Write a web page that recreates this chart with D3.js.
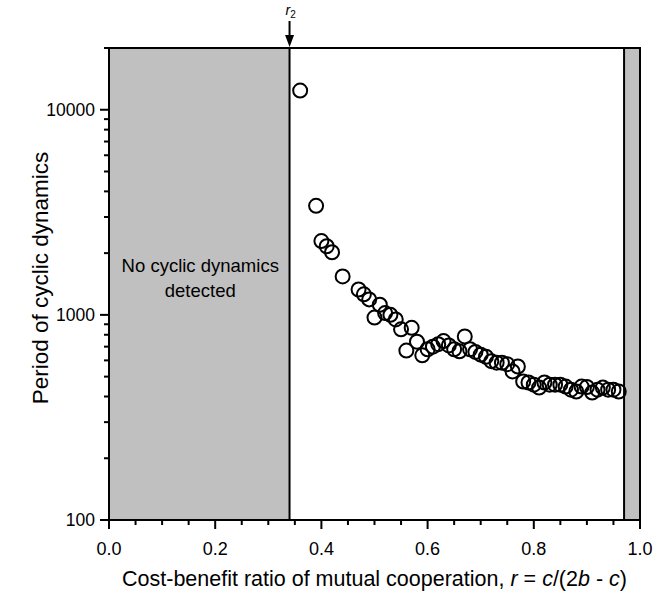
<!DOCTYPE html>
<html>
<head>
<meta charset="utf-8">
<script src="https://cdn.jsdelivr.net/npm/d3@7"></script>
<style>
  body { margin: 0; background: #fff; }
  text { font-family: "Liberation Sans", Arial, sans-serif; fill: #000; }
</style>
</head>
<body>
<div id="canvas"></div>
<script>
// cost-benefit ratio r and period of the cycles
const ratios = [0.36, 0.39, 0.40, 0.41, 0.42, 0.44, 0.47, 0.48, 0.49, 0.50,
  0.51, 0.52, 0.53, 0.54, 0.55, 0.56, 0.57, 0.58, 0.59, 0.60,
  0.61, 0.62, 0.63, 0.64, 0.65, 0.66, 0.67, 0.68, 0.69, 0.70,
  0.71, 0.72, 0.73, 0.74, 0.75, 0.76, 0.77, 0.78, 0.79, 0.80,
  0.81, 0.82, 0.83, 0.84, 0.85, 0.86, 0.87, 0.88, 0.89, 0.90,
  0.91, 0.92, 0.93, 0.94, 0.95, 0.96];
const periods = [12400, 3400, 2290, 2160, 2020, 1540, 1330, 1260, 1190, 970,
  1120, 1020, 1000, 950, 850, 670, 865, 740, 635, 680,
  700, 720, 745, 710, 680, 665, 785, 680, 660, 640,
  625, 595, 585, 585, 575, 530, 560, 473, 468, 457,
  442, 468, 457, 457, 457, 447, 432, 423, 447, 445,
  418, 432, 442, 432, 432, 423];

const r2 = 0.34;          // lower edge of cycling region
const rUpper = 0.97;      // upper edge of cycling region
const yTicks = [100, 1000, 10000];
const xTicks = [0, 0.2, 0.4, 0.6, 0.8, 1.0];

const width = 672, height = 599;
const margin = { left: 109, right: 32, top: 48, bottom: 79 };
const plotW = width - margin.left - margin.right;
const plotH = height - margin.top - margin.bottom;

const svg = d3.select("#canvas").append("svg")
  .attr("width", width).attr("height", height);

const x = d3.scaleLinear().domain([0, 1]).range([margin.left, margin.left + plotW]);
const y = d3.scaleLog().domain([100, 20000]).range([margin.top + plotH, margin.top]);

// grey bands where no cycles were found
svg.append("rect").attr("x", x(0)).attr("y", y(20000))
  .attr("width", x(r2) - x(0)).attr("height", plotH)
  .attr("fill", "#c0c0c0");
svg.append("rect").attr("x", x(rUpper)).attr("y", y(20000))
  .attr("width", x(1) - x(rUpper)).attr("height", plotH)
  .attr("fill", "#c0c0c0");
svg.append("line").attr("x1", x(r2)).attr("x2", x(r2))
  .attr("y1", y(20000)).attr("y2", y(100))
  .attr("stroke", "#000").attr("stroke-width", 2);
svg.append("line").attr("x1", x(rUpper)).attr("x2", x(rUpper))
  .attr("y1", y(20000)).attr("y2", y(100))
  .attr("stroke", "#000").attr("stroke-width", 2);

// frame
svg.append("rect").attr("x", x(0)).attr("y", y(20000))
  .attr("width", plotW).attr("height", plotH)
  .attr("fill", "none").attr("stroke", "#000").attr("stroke-width", 2);

// label in left band
const cx = (x(0) + x(r2)) / 2;
const note = svg.append("text").attr("text-anchor", "middle")
  .style("font-size", "18.5px");
note.append("tspan").attr("x", cx + 1).attr("y", 272).text("No cyclic dynamics");
note.append("tspan").attr("x", cx + 1).attr("y", 297).text("detected");

// data points
const pts = ratios.map((r, i) => ({ r, p: periods[i] }));
svg.append("g").selectAll("circle").data(pts).join("circle")
  .attr("cx", d => x(d.r)).attr("cy", d => y(d.p))
  .attr("r", 7).attr("fill", "none")
  .attr("stroke", "#000").attr("stroke-width", 2);

// x axis
const xMinor = d3.range(0, 1.0001, 0.05);
const xAxis = svg.append("g").attr("transform", `translate(0,${y(100)})`);
xAxis.selectAll("line").data(xMinor).join("line")
  .attr("x1", d => x(d)).attr("x2", d => x(d))
  .attr("y1", 0).attr("y2", (d, i) => i % 4 === 0 ? 9 : 5)
  .attr("stroke", "#000").attr("stroke-width", 2);
xAxis.selectAll("text").data(xTicks).join("text")
  .attr("x", d => x(d)).attr("y", 35)
  .attr("text-anchor", "middle").style("font-size", "18px")
  .text(d => d3.format(".1f")(d));

// y axis
const yMinor = [];
[100, 1000, 10000].forEach(b => { for (let k = 1; k <= 9; k++) if (b * k <= 20000) yMinor.push(b * k); });
yMinor.push(20000);
const yAxis = svg.append("g").attr("transform", `translate(${x(0)},0)`);
yAxis.selectAll("line").data(yMinor).join("line")
  .attr("x1", d => yTicks.includes(d) ? -9 : -5).attr("x2", 0)
  .attr("y1", d => y(d)).attr("y2", d => y(d))
  .attr("stroke", "#000").attr("stroke-width", 2);
yAxis.selectAll("text").data(yTicks).join("text")
  .attr("x", -14).attr("y", d => y(d)).attr("dy", "0.35em")
  .attr("text-anchor", "end").style("font-size", "17.5px")
  .text(d => d);

// axis titles
const xt = svg.append("text")
  .attr("x", x(0.5)).attr("y", 586)
  .attr("text-anchor", "middle").style("font-size", "21.5px");
xt.append("tspan").text("Cost-benefit ratio of mutual cooperation, ");
xt.append("tspan").style("font-style", "italic").text("r");
xt.append("tspan").text(" = ");
xt.append("tspan").style("font-style", "italic").text("c");
xt.append("tspan").text("/(2");
xt.append("tspan").style("font-style", "italic").text("b");
xt.append("tspan").text(" - ");
xt.append("tspan").style("font-style", "italic").text("c");
xt.append("tspan").text(")");

svg.append("text")
  .attr("transform", `translate(40,${y(100) - plotH / 2 - 6}) rotate(-90)`)
  .attr("dy", "0.35em")
  .attr("text-anchor", "middle").style("font-size", "22.5px")
  .text("Period of cyclic dynamics");

// r2 marker arrow
const ax = x(r2);
svg.append("line").attr("x1", ax).attr("x2", ax)
  .attr("y1", 21).attr("y2", 38)
  .attr("stroke", "#000").attr("stroke-width", 2);
svg.append("path")
  .attr("d", `M${ax - 4.5},35 L${ax + 4.5},35 L${ax},47 Z`)
  .attr("fill", "#000");
const lab = svg.append("text").attr("x", ax - 4).attr("y", 15)
  .style("font-size", "14px");
lab.append("tspan").style("font-style", "italic").text("r");
lab.append("tspan").attr("dy", 3).style("font-size", "10px").text("2");
</script>
</body>
</html>
